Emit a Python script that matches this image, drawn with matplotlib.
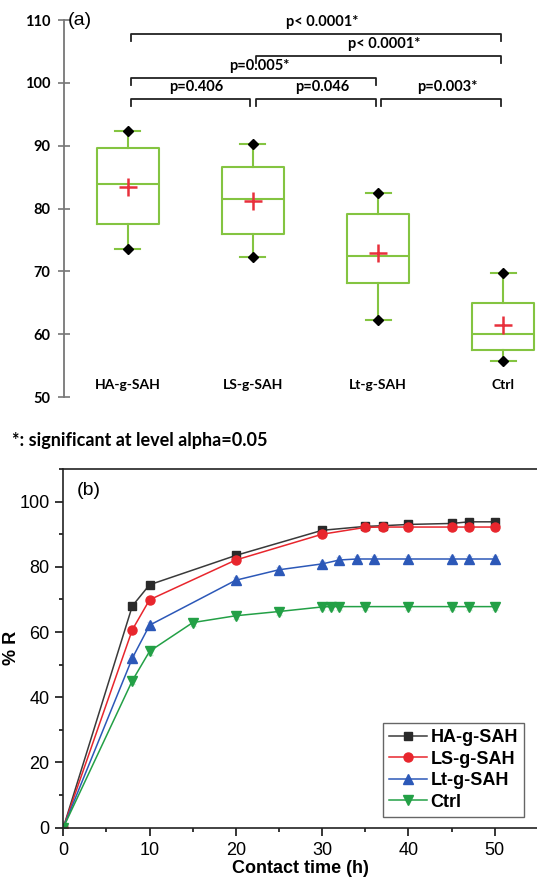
import matplotlib.pyplot as plt
from matplotlib.ticker import MultipleLocator

# ---- panel (a): box plot summary values ----
groups = ['HA-g-SAH', 'LS-g-SAH', 'Lt-g-SAH', 'Ctrl']
whis_lo = [73.5, 72.3, 62.3, 55.8]
q1 = [77.5, 75.9, 68.1, 57.5]
median = [83.9, 81.5, 72.5, 60.0]
q3 = [89.6, 86.6, 79.2, 65.0]
whis_hi = [92.4, 90.3, 82.4, 69.8]
means = [83.4, 81.2, 72.9, 61.5]

# pairwise comparisons: (group i, group j, bracket level, label)
pairs = [(0, 1, 97.4, 'p=0.406'),
         (1, 2, 97.4, 'p=0.046'),
         (2, 3, 97.4, 'p=0.003*'),
         (0, 2, 100.8, 'p=0.005*'),
         (1, 3, 104.3, 'p< 0.0001*'),
         (0, 3, 107.7, 'p< 0.0001*')]

# ---- panel (b): % R vs contact time ----
t_ha = [0, 8, 10, 20, 30, 35, 37, 40, 45, 47, 50]
r_ha = [0, 68.0, 74.5, 83.5, 91.2, 92.4, 92.6, 93.0, 93.3, 93.8, 93.8]
t_ls = [0, 8, 10, 20, 30, 35, 37, 40, 45, 47, 50]
r_ls = [0, 60.7, 69.9, 82.1, 90.0, 92.1, 92.2, 92.2, 92.2, 92.2, 92.2]
t_lt = [0, 8, 10, 20, 25, 30, 32, 34, 36, 40, 45, 47, 50]
r_lt = [0, 52.0, 62.1, 75.9, 79.1, 80.9, 82.1, 82.4, 82.4, 82.4, 82.4, 82.4, 82.4]
t_ct = [0, 8, 10, 15, 20, 25, 30, 31, 32, 35, 40, 45, 47, 50]
r_ct = [0, 45.1, 54.1, 62.9, 65.0, 66.3, 67.7, 67.8, 67.8, 67.8, 67.8, 67.8, 67.8, 67.8]

fig = plt.figure(figsize=(5.37, 8.8), dpi=100)

# ================= (a) =================
ax1 = fig.add_axes([64 / 537, 1 - 397 / 880, 1 - 64 / 537, 377 / 880])
pos = [1, 2, 3, 4]
green = '#84c441'
stats = []
for i in range(4):
    stats.append(dict(med=median[i], q1=q1[i], q3=q3[i], whislo=whis_lo[i],
                      whishi=whis_hi[i], mean=means[i], fliers=[]))
ax1.bxp(stats, positions=pos, widths=0.5, showmeans=True, capwidths=0.2,
        boxprops=dict(color=green, lw=1.5),
        whiskerprops=dict(color=green, lw=1.5),
        capprops=dict(color=green, lw=1.5),
        medianprops=dict(color=green, lw=1.5),
        meanprops=dict(marker='+', markeredgecolor='#e8303c', markersize=13, markeredgewidth=1.8))
ax1.plot(pos, whis_lo, 'D', color='black', markersize=5, zorder=4)
ax1.plot(pos, whis_hi, 'D', color='black', markersize=5, zorder=4)

lab_font = dict(family=['Lato', 'DejaVu Sans'], weight='bold')
for i, j, lev, txt in pairs:
    x0 = pos[i] + 0.025
    x1 = pos[j] - 0.02
    ax1.plot([x0, x0, x1, x1], [lev - 1.1, lev, lev, lev - 1.1], color='#222222', lw=1.3)
    ax1.text((pos[i] + pos[j]) / 2 + 0.05, lev + 1.95, txt, ha='center', va='center',
             fontsize=10.5, **lab_font)

for p, g in zip(pos, groups):
    ax1.text(p, 51.9, g, ha='center', va='center', fontsize=10, **lab_font)

ax1.set_xlim(0.49, 4.27)
ax1.set_ylim(50, 110)
ax1.set_yticks(range(50, 111, 10))
ax1.set_xticks([])
for s in ['top', 'right', 'bottom']:
    ax1.spines[s].set_visible(False)
ax1.spines['left'].set_color('#777777')
ax1.spines['left'].set_linewidth(1.3)
ax1.tick_params(axis='y', direction='inout', length=8, width=1.2, color='#777777', pad=6)
for lab in ax1.get_yticklabels():
    lab.set_fontfamily(['Lato', 'DejaVu Sans'])
    lab.set_fontweight('bold')
    lab.set_fontsize(10.5)
ax1.text(0.52, 110, '(a)', ha='left', va='center', fontsize=14, family='Liberation Sans')

fig.text(12 / 537, 1 - 440 / 880, '*: significant at level alpha=0.05', ha='left', va='center',
         fontsize=13, **lab_font)

# ================= (b) =================
ax2 = fig.add_axes([63.3 / 537, 1 - 827.7 / 880, 1 - 63.3 / 537, 358.7 / 880])
series = [(t_ha, r_ha, 'HA-g-SAH', '#3a3a3a', '#2a2a2a', 's', 5.5),
          (t_ls, r_ls, 'LS-g-SAH', '#e8262d', '#e8262d', 'o', 6.5),
          (t_lt, r_lt, 'Lt-g-SAH', '#2c58b8', '#2c58b8', '^', 6.5),
          (t_ct, r_ct, 'Ctrl', '#23a046', '#23a046', 'v', 6.5)]
for t, r, name, lc, mc, mk, ms in series:
    ax2.errorbar(t, r, yerr=1.0, fmt='none', ecolor=lc, alpha=0.25, lw=1, capsize=2)
    ax2.plot(t, r, color=lc, lw=1.1, marker=mk, markersize=ms,
             markerfacecolor=mc, markeredgecolor=mc, label=name)

ax2.set_xlim(0, 54.9)
ax2.set_ylim(0, 110)
ax2.xaxis.set_major_locator(MultipleLocator(10))
ax2.xaxis.set_minor_locator(MultipleLocator(5))
ax2.yaxis.set_major_locator(MultipleLocator(20))
ax2.yaxis.set_minor_locator(MultipleLocator(10))
ax2.spines['right'].set_visible(False)
for s in ['top', 'left', 'bottom']:
    ax2.spines[s].set_linewidth(1.2)
    ax2.spines[s].set_color('#222222')
ax2.tick_params(which='major', direction='out', length=6, width=1.1, labelsize=13, pad=4)
ax2.tick_params(which='minor', direction='out', length=3, width=1.1)
for lab in ax2.get_xticklabels() + ax2.get_yticklabels():
    lab.set_fontfamily('Liberation Sans')
ax2.set_xlabel('Contact time (h)', fontsize=13, fontweight='bold', family='Liberation Sans',
               labelpad=1)
ax2.set_ylabel('% R', fontsize=13, fontweight='bold', family='Liberation Sans')
ax2.yaxis.set_label_coords(-0.092, 0.5)
ax2.text(1.6, 106, '(b)', ha='left', va='top', fontsize=14, family='Liberation Sans')

leg = ax2.legend(loc='lower right', bbox_to_anchor=(0.973, 0.03), fancybox=False,
                 edgecolor='#666666', framealpha=1, handlelength=2.1, handletextpad=0.2,
                 labelspacing=0.25, borderpad=0.35, borderaxespad=0,
                 prop=dict(family='Liberation Sans', weight='bold', size=13))
leg.get_frame().set_linewidth(1.0)

fig.savefig('out.png', dpi=100)
